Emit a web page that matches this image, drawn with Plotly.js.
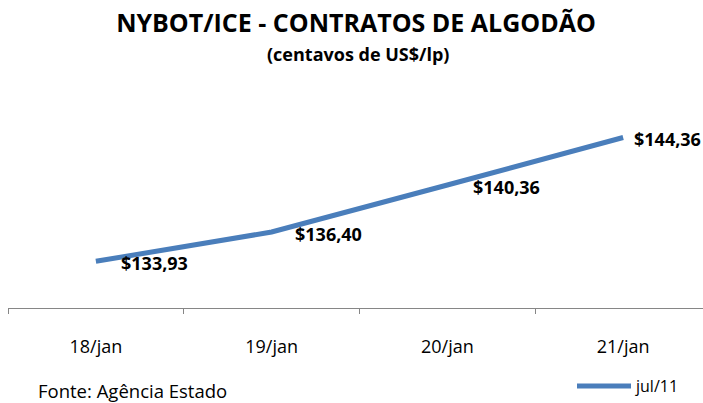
<!DOCTYPE html>
<html>
<head>
<meta charset="utf-8">
<script src="https://cdn.plot.ly/plotly-3.0.1.min.js"></script>
<style>html,body{margin:0;padding:0;background:#fff;}#chart{width:703px;height:403px;}</style>
</head>
<body>
<div id="chart"></div>
<script>
const categories = ['18/jan', '19/jan', '20/jan', '21/jan'];
const values = [133.93, 136.40, 140.36, 144.36];
const valueLabels = ['$133,93', '$136,40', '$140,36', '$144,36'];
const seriesName = 'jul/11';
const titleText = 'NYBOT/ICE - CONTRATOS DE ALGODÃO';
const subtitleText = '(centavos de US$/lp)';
const sourceText = 'Fonte: Agência Estado';

const FONT = 'Open Sans, Noto Sans, sans-serif';
const labelShift = [23, 21, 24, 9];

// plot area in page pixels
const PL = 8, PR = 703, PT = 118, PB = 308;
const px2x = p => (p - PL) / (PR - PL);
const px2y = p => (PB - p) / (PB - PT);

const trace = {
  x: categories,
  y: values,
  type: 'scatter',
  mode: 'lines',
  name: seriesName,
  line: {color: '#4A7EBB', width: 5},
  hoverinfo: 'skip'
};

const annotations = categories.map((c, i) => ({
  x: c, y: values[i], xref: 'x', yref: 'y',
  text: '<b>' + valueLabels[i] + '</b>',
  showarrow: false, xanchor: 'left', yanchor: 'middle',
  xshift: labelShift[i], yshift: -2,
  font: {family: FONT, size: 18, color: '#000'}
}));
annotations.push({
  xref: 'paper', yref: 'paper', x: px2x(358), y: px2y(54),
  xanchor: 'center', yanchor: 'middle', showarrow: false,
  text: '<b>' + subtitleText + '</b>',
  font: {family: FONT, size: 18, color: '#000'}
});
annotations.push({
  xref: 'paper', yref: 'paper', x: px2x(36), y: px2y(390),
  xanchor: 'left', yanchor: 'middle', showarrow: false,
  text: sourceText,
  font: {family: FONT, size: 18.5, color: '#000'}
});

const layout = {
  width: 703, height: 403,
  margin: {l: PL, r: 703 - PR, t: PT, b: 403 - PB, pad: 0},
  paper_bgcolor: '#fff', plot_bgcolor: '#fff',
  title: {
    text: '<b>' + titleText + '</b>',
    xref: 'container', x: 356 / 703, xanchor: 'center',
    yref: 'container', y: 1 - 23 / 403, yanchor: 'middle',
    font: {family: FONT, size: 25, color: '#000'}
  },
  xaxis: {
    type: 'category',
    range: [-0.5, -0.5 + (PR - PL) / 175.75],
    tickson: 'boundaries',
    ticks: 'outside', ticklen: 5, tickwidth: 1, tickcolor: '#868686',
    showline: true, linecolor: '#868686', linewidth: 1,
    showgrid: false, zeroline: false,
    ticklabelstandoff: 22,
    tickfont: {family: FONT, size: 18, color: '#000'},
    fixedrange: true
  },
  yaxis: {
    range: [130, 146],
    visible: false, showgrid: false, zeroline: false, fixedrange: true
  },
  showlegend: true,
  legend: {
    x: px2x(572), y: px2y(403), xanchor: 'left', yanchor: 'bottom',
    itemwidth: 54,
    font: {family: FONT, size: 16, color: '#000'},
    bgcolor: 'rgba(0,0,0,0)'
  },
  annotations: annotations
};

Plotly.newPlot('chart', [trace], layout, {displayModeBar: false, staticPlot: true});
</script>
</body>
</html>
